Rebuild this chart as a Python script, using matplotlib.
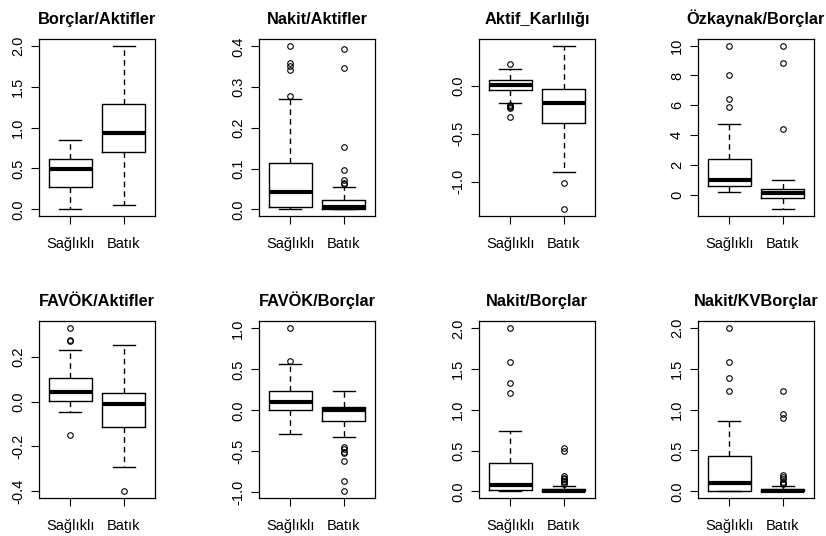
import matplotlib
matplotlib.use('Agg')
import matplotlib.pyplot as plt

plt.rcParams['font.family'] = ['Liberation Sans', 'DejaVu Sans']
plt.rcParams['axes.unicode_minus'] = False

groups = ['Sağlıklı', 'Batık']
titles = ['Borçlar/Aktifler', 'Nakit/Aktifler', 'Aktif_Karlılığı', 'Özkaynak/Borçlar',
          'FAVÖK/Aktifler', 'FAVÖK/Borçlar', 'Nakit/Borçlar', 'Nakit/KVBorçlar']

# (whislo, q1, med, q3, whishi) per group
borc_akt = [(0.00, 0.28, 0.49, 0.61, 0.85), (0.05, 0.70, 0.93, 1.29, 2.00)]
nakit_akt = [(0.002, 0.0065, 0.042, 0.113, 0.272), (0.0, 0.002, 0.006, 0.024, 0.056)]
aktif_kar = [(-0.178, -0.04, 0.01, 0.056, 0.178), (-0.895, -0.39, -0.18, -0.03, 0.42)]
ozk_borc = [(0.22, 0.58, 1.0, 2.4, 4.76), (-0.96, -0.22, 0.11, 0.40, 1.0)]
favok_akt = [(-0.046, 0.003, 0.044, 0.105, 0.231), (-0.29, -0.113, -0.01, 0.04, 0.25)]
favok_borc = [(-0.286, 0.008, 0.098, 0.237, 0.56), (-0.33, -0.127, 0.008, 0.037, 0.233)]
nakit_borc = [(0.0, 0.012, 0.078, 0.343, 0.747), (0.0, 0.004, 0.008, 0.029, 0.061)]
nakit_kvborc = [(0.0, 0.008, 0.10, 0.427, 0.854), (0.0, 0.004, 0.008, 0.024, 0.061)]

# outliers per group
borc_akt_out = [[], []]
nakit_akt_out = [[0.402, 0.358, 0.353, 0.341, 0.278],
                 [0.394, 0.347, 0.154, 0.097, 0.073, 0.066, 0.063]]
aktif_kar_out = [[0.227, -0.20, -0.21, -0.22, -0.23, -0.33], [-1.01, -1.29]]
ozk_borc_out = [[10.0, 8.0, 6.44, 5.91], [10.0, 8.8, 4.42]]
favok_akt_out = [[0.329, 0.274, 0.268, -0.147], [-0.40]]
favok_borc_out = [[1.01, 0.596],
                  [-0.453, -0.478, -0.506, -0.522, -0.624, -0.857, -0.99]]
nakit_borc_out = [[2.01, 1.59, 1.335, 1.208],
                  [0.53, 0.49, 0.19, 0.17, 0.15, 0.13, 0.11, 0.09]]
nakit_kvborc_out = [[2.0, 1.585, 1.386, 1.228],
                    [1.228, 0.943, 0.894, 0.20, 0.18, 0.15, 0.12, 0.10, 0.085]]

yticks = [[0.0, 0.5, 1.0, 1.5, 2.0],
          [0.0, 0.1, 0.2, 0.3, 0.4],
          [-1.0, -0.5, 0.0],
          [0, 2, 4, 6, 8, 10],
          [-0.4, -0.2, 0.0, 0.2],
          [-1.0, -0.5, 0.0, 0.5, 1.0],
          [0.0, 0.5, 1.0, 1.5, 2.0],
          [0.0, 0.5, 1.0, 1.5, 2.0]]
ytick_fmt = ['%.1f', '%.1f', '%.1f', '%d', '%.1f', '%.1f', '%.1f', '%.1f']

all_stats = [borc_akt, nakit_akt, aktif_kar, ozk_borc,
             favok_akt, favok_borc, nakit_borc, nakit_kvborc]
all_out = [borc_akt_out, nakit_akt_out, aktif_kar_out, ozk_borc_out,
           favok_akt_out, favok_borc_out, nakit_borc_out, nakit_kvborc_out]

fig = plt.figure(figsize=(8.26, 5.36), dpi=100)

lefts = [39, 259, 479, 698]
bottoms = [216, 498]
W, H = 826.0, 536.0

for i in range(8):
    row, col = divmod(i, 4)
    ax = fig.add_axes([lefts[col] / W, 1 - bottoms[row] / H, 116 / W, 177 / H])

    bstats = []
    for (lo, q1, med, q3, hi), fl in zip(all_stats[i], all_out[i]):
        bstats.append(dict(whislo=lo, q1=q1, med=med, q3=q3, whishi=hi, fliers=fl))

    ax.bxp(bstats, positions=[1, 2], widths=0.8, capwidths=0.4,
           boxprops=dict(color='black', linewidth=1.0),
           whiskerprops=dict(color='black', linewidth=1.0, linestyle=(0, (4, 3))),
           capprops=dict(color='black', linewidth=1.0),
           medianprops=dict(color='black', linewidth=3.0, solid_capstyle='butt'),
           flierprops=dict(marker='o', markersize=4.0, markerfacecolor='none',
                           markeredgecolor='black', markeredgewidth=0.8),
           manage_ticks=False)

    ax.set_xlim(0.42, 2.58)
    ax.margins(y=0.04)
    ax.set_xticks([1, 2])
    ax.set_xticklabels(groups, fontsize=10.5)
    ax.set_yticks(yticks[i])
    ax.set_yticklabels([ytick_fmt[i] % v for v in yticks[i]], fontsize=10.5,
                       rotation=90, va='center')
    ax.tick_params(axis='both', length=6, width=0.8, colors='black')
    ax.tick_params(axis='x', pad=9)
    ax.tick_params(axis='y', pad=4)
    for sp in ax.spines.values():
        sp.set_linewidth(0.9)
    ax.set_title(titles[i], fontsize=11.8, fontweight='bold', pad=11)

plt.savefig('out.png', dpi=100)
plt.close()
